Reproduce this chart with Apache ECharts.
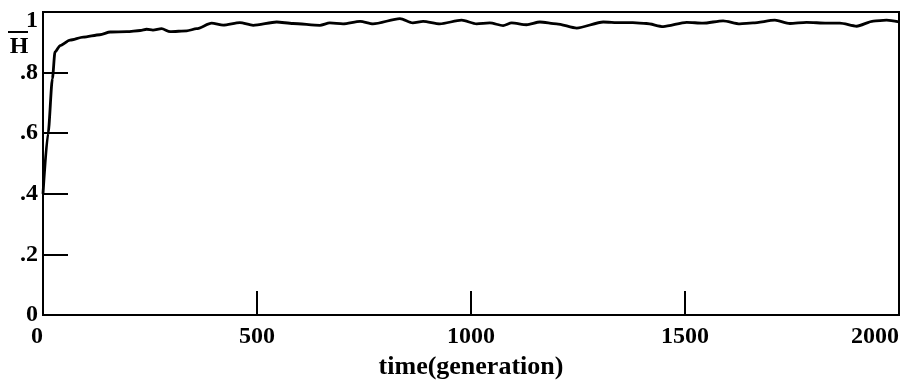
<!DOCTYPE html>
<html>
<head>
<meta charset="utf-8">
<script src="https://cdn.jsdelivr.net/npm/echarts@6/dist/echarts.min.js"></script>
<style>
html,body{margin:0;padding:0;background:#fff;}
#chart{width:916px;height:386px;}
</style>
</head>
<body>
<div id="chart"></div>
<script>
// time (generation)
var gens = [0,12,22,28,40,63,94,133,157,196,227,242,257,277,297,336,359,394,421,460,491,546,584,647,670,701,741,771,834,864,888,927,978,1013,1044,1075,1095,1130,1161,1200,1247,1309,1348,1378,1410,1449,1504,1542,1589,1628,1659,1710,1745,1784,1831,1862,1901,1940,1971,2000];
// mean H
var hbar = [0.40,0.60,0.78,0.868,0.889,0.907,0.917,0.925,0.934,0.935,0.939,0.943,0.940,0.945,0.935,0.938,0.945,0.963,0.957,0.965,0.956,0.967,0.962,0.956,0.964,0.961,0.969,0.961,0.978,0.964,0.969,0.961,0.973,0.961,0.964,0.955,0.964,0.958,0.967,0.961,0.947,0.967,0.965,0.965,0.962,0.952,0.966,0.963,0.971,0.961,0.964,0.973,0.962,0.966,0.963,0.963,0.953,0.970,0.973,0.967];
var xTicks = ['0','500','1000','1500','2000'];
var yTicks = ['0','.2','.4','.6','.8','1'];
var xName = 'time(generation)';
var yName = 'H';

var FONT = '"Liberation Serif", "Times New Roman", serif';
var chart = echarts.init(document.getElementById('chart'), null, {renderer:'canvas'});
var pts = gens.map(function(g,i){return [g, hbar[i]];});
chart.setOption({
  animation:false,
  backgroundColor:'#fff',
  grid:{left:43,right:17,top:12,bottom:71,show:true,borderColor:'#000',borderWidth:2,backgroundColor:'transparent'},
  xAxis:{
    type:'value',min:0,max:2000,interval:500,
    name:xName,nameLocation:'middle',nameGap:36,
    nameTextStyle:{fontFamily:FONT,fontWeight:'bold',fontSize:26,color:'#000'},
    axisLine:{show:true,lineStyle:{color:'#000',width:2}},
    axisTick:{show:true,inside:true,length:24,lineStyle:{color:'#000',width:2}},
    axisLabel:{margin:10,fontFamily:FONT,fontWeight:'bold',fontSize:24,color:'#000',
      alignMinLabel:'right',alignMaxLabel:'right',
      formatter:function(v){return xTicks[Math.round(v/500)];}},
    splitLine:{show:false}
  },
  yAxis:{
    type:'value',min:0,max:1,interval:0.2,
    axisLine:{show:true,lineStyle:{color:'#000',width:2}},
    axisTick:{show:true,inside:true,length:25,lineStyle:{color:'#000',width:2}},
    axisLabel:{margin:5,fontFamily:FONT,fontWeight:'bold',fontSize:24,color:'#000',
      formatter:function(v){var i=Math.round(v/0.2); if(i===5) return '{one|'+yTicks[i]+'}'; return yTicks[i];},
      rich:{one:{fontFamily:FONT,fontWeight:'bold',fontSize:24,color:'#000',padding:[18,0,0,0]}}},
    splitLine:{show:false}
  },
  graphic:[
    {type:'text',style:{text:yName,x:19,y:47,align:'center',verticalAlign:'middle',
      font:'bold 24px '+FONT,fill:'#000'}},
    {type:'line',shape:{x1:8,y1:32,x2:28,y2:32},style:{stroke:'#000',lineWidth:2}}
  ],
  series:[{
    type:'line',data:pts,showSymbol:false,symbol:'none',smooth:0.25,smoothMonotone:'x',
    lineStyle:{color:'#000',width:2.8}
  }]
});
</script>
</body>
</html>
